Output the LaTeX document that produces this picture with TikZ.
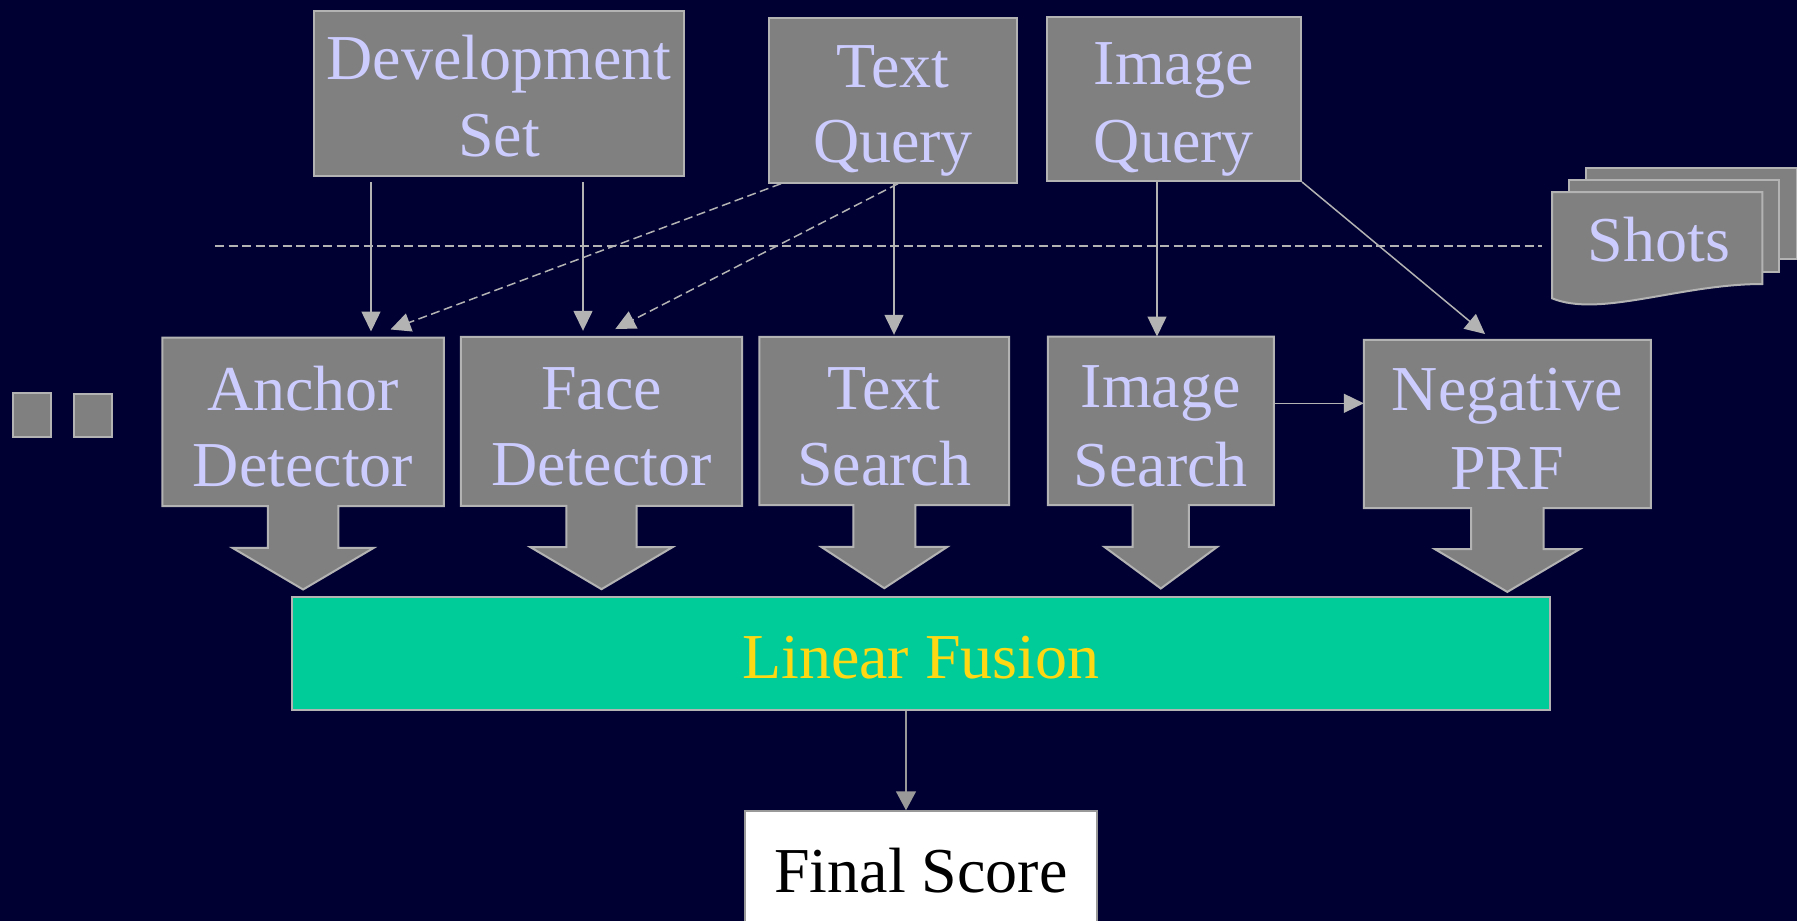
\documentclass[tikz,border=0pt]{standalone}
\usepackage{fontspec}
\setmainfont{Liberation Serif}
\usetikzlibrary{arrows.meta,calc}
\definecolor{bgc}{HTML}{000033}
\definecolor{boxc}{HTML}{808080}
\definecolor{edgec}{HTML}{B3B3B3}
\definecolor{txtc}{HTML}{CCCCFF}
\definecolor{fusc}{HTML}{00CC99}
\definecolor{fustxt}{HTML}{FFD814}
\definecolor{darkedge}{HTML}{999999}
\pgfdeclarelayer{bg}
\pgfsetlayers{bg,main}
\newcommand\mystrut{\vrule height 62.5pt depth 12.5pt width 0pt}
\newcommand\midstrut{\vrule height 64.2pt depth 11.8pt width 0pt}
\newcommand\callout[5]{%
  \draw[cal] (#1.north west) -- (#1.north east) -- (#1.south east)
   -- ([xshift=#2pt]#1.south) -- ([xshift=#2pt,yshift=-#4pt]#1.south)
   -- ([xshift=#3pt,yshift=-#4pt]#1.south) -- ([yshift=-#5pt]#1.south)
   -- ([xshift=-#3pt,yshift=-#4pt]#1.south) -- ([xshift=-#2pt,yshift=-#4pt]#1.south)
   -- ([xshift=-#2pt]#1.south) -- (#1.south west) -- cycle;}
\begin{document}
\begin{tikzpicture}[x=1pt,y=-1pt,
  txt/.style={font=\fontsize{64}{75}\selectfont, text=txtc, align=center, inner sep=0pt},
  box/.style={txt, draw=edgec, fill=boxc, line width=2pt, rectangle},
  cnode/.style={txt, rectangle},
  mnode/.style={txt, rectangle, font=\fontsize{64}{76}\selectfont},
  cal/.style={draw=edgec, fill=boxc, line width=2pt, line join=miter},
  sheet/.style={draw=edgec, fill=boxc, line width=2pt},
  arr/.style={draw=edgec, line width=1.5pt, -{Triangle[length=20pt,width=19pt]}},
  darr/.style={arr, dash pattern=on 9pt off 4.5pt},
  dline/.style={draw=edgec, line width=2pt, dash pattern=on 9pt off 4.5pt},
  farr/.style={draw=darkedge, line width=1.5pt, -{Triangle[length=19pt,width=20pt]}}
]
\useasboundingbox (0,0) rectangle (1797,921);
\begin{pgfonlayer}{bg}
\fill[bgc] (0,0) rectangle (1797,921);
\end{pgfonlayer}

% top row
\node[box, minimum width=370pt, minimum height=164.7pt] (dev) at (499,93.4) {\mystrut Development\\\mystrut Set};
\node[box, minimum width=248pt, minimum height=164.4pt] (tq) at (893,100.5) {\mystrut Text\\\mystrut Query};
\node[box, minimum width=254.5pt, minimum height=164pt] (iq) at (1173.8,99) {\mystrut Image\\\mystrut Query};

% shots stack
\draw[sheet] (1585.7,168.3) rectangle (1797,259.3);
\draw[sheet] (1569.3,180) rectangle (1778.7,271.7);
\draw[sheet] (1552,192) -- (1762.3,192) -- (1762.3,284)
   .. controls (1680,284) and (1600,318) .. (1552,298.3) -- cycle;
\node[cnode, minimum width=210pt] (shots) at (1659,236.7) {\mystrut Shots};

% small squares
\node[box, minimum width=38pt, minimum height=43.4pt] (sq1) at (31.7,415) {};
\node[box, minimum width=38.3pt, minimum height=43.3pt] (sq2) at (93.2,415.6) {};

% middle row (callouts)
\node[mnode, minimum width=281.2pt, minimum height=168.3pt] (anc) at (303.1,421.85) {\midstrut Anchor\\\midstrut Detector};
\node[mnode, minimum width=281pt, minimum height=168.7pt] (face) at (601.5,421.35) {\midstrut Face\\\midstrut Detector};
\node[mnode, minimum width=249.5pt, minimum height=168pt] (ts) at (884.25,421) {\midstrut Text\\\midstrut Search};
\node[mnode, minimum width=225.6pt, minimum height=168.3pt] (is) at (1160.8,420.85) {\midstrut Image\\\midstrut Search};
\node[mnode, minimum width=286.6pt, minimum height=168pt] (neg) at (1507.3,424) {\midstrut Negative\\\midstrut PRF};
\begin{pgfonlayer}{bg}
\callout{anc}{35.3}{70.6}{41.7}{83.3}
\callout{face}{35.2}{71}{41.3}{83.3}
\callout{ts}{31}{63}{41.7}{83}
\callout{is}{28.1}{56.4}{41.7}{83.3}
\callout{neg}{36.3}{72.3}{41}{83.7}
\end{pgfonlayer}

% fusion and final
\node[txt, draw=edgec, fill=fusc, line width=2pt, text=fustxt, minimum width=1258.5pt, minimum height=113.3pt] (lf) at (920.75,653.35) {\mystrut Linear Fusion};
\node[txt, draw=darkedge, fill=white, line width=2pt, text=black, minimum width=352pt, minimum height=112pt] (fs) at (921,867.3) {\mystrut Final Score};

% dashed separator
\coordinate (dl) at (215,246);
\draw[dline, shorten >=12pt] (dl) -- (dl -| shots.west);

% connectors
\draw[arr, shorten <=5pt, shorten >=6pt] (371,0 |- dev.south) -- (371,0 |- anc.north);
\draw[arr, shorten <=5pt, shorten >=6pt] (583,0 |- dev.south) -- (583,0 |- face.north);
\draw[darr, shorten >=23pt] (781,0 |- tq.south) -- (369,0 |- anc.north);
\draw[darr, shorten >=17pt] (898,0 |- tq.south) -- (600.2,0 |- face.north);
\draw[arr, shorten >=2pt] (894,0 |- tq.south) -- (894,0 |- ts.north);
\draw[arr] (1157,0 |- iq.south) -- (1157,0 |- is.north);
\draw[arr, shorten >=9pt] (iq.south east) -- (1492,0 |- neg.north);
\draw[arr] (is.east |- 0,403.3) -- (neg.west |- 0,403.3);
\draw[farr] (906,0 |- lf.south) -- (906,0 |- fs.north);
\end{tikzpicture}
\end{document}
